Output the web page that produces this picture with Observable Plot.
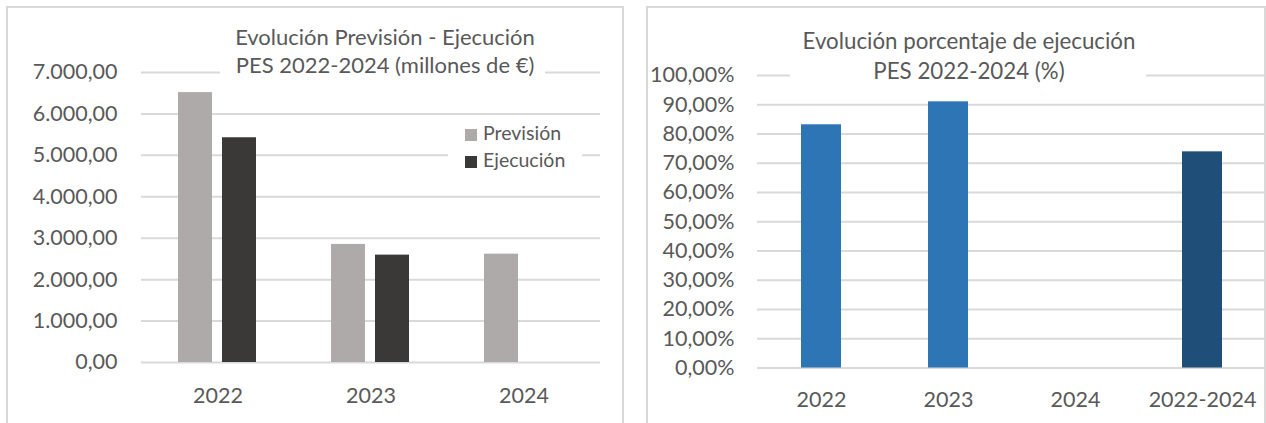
<!DOCTYPE html>
<html><head><meta charset="utf-8">
<script src="https://cdn.jsdelivr.net/npm/d3@7"></script>
<script src="https://cdn.jsdelivr.net/npm/@observablehq/plot@0.6"></script>
<style>
body{margin:0;width:1266px;height:423px;position:relative;overflow:hidden;background:#fff;font-family:Lato,sans-serif;color:#595959}
.panel{position:absolute;box-sizing:border-box;border:2px solid #d9d9d9;background:#fff}
.chart{position:absolute;top:0}
.title{position:absolute;background:#fff;text-align:center;white-space:nowrap;box-sizing:border-box}
.legend{position:absolute;background:#fff;white-space:nowrap;box-sizing:border-box}
.sw{display:inline-block;width:12px;height:12px;margin-right:6px;vertical-align:-1px}
</style></head><body>
<div class="panel" style="left:6px;top:6px;width:618px;height:440px"></div>
<div class="panel" style="left:646px;top:6px;width:620px;height:440px"></div>
<div id="left" class="chart" style="left:0;width:623px"></div>
<div id="right" class="chart" style="left:646px;width:620px"></div>
<div id="t1" class="title" style="left:220px;top:23px;width:325px;padding-left:5px;font-size:22px;line-height:28px"></div>
<div id="t2" class="title" style="left:790px;top:26px;width:356px;padding-left:2px;font-size:22.3px;line-height:30px"></div>
<div id="leg" class="legend" style="left:448px;top:119px;width:134px;padding-left:17px;font-size:19.5px;line-height:27px"></div>
<script>
// ---- Data: left chart (millones de €)
const years = ["2022", "2023", "2024"];
const prevision = [6515, 2850, 2615];
const ejecucion = [5425, 2592, null];
const seriesNames = ["Previsión", "Ejecución"];
const seriesColors = ["#AEAAAA", "#3B3838"];
const yTicksLeft = [0, 1000, 2000, 3000, 4000, 5000, 6000, 7000];

// ---- Data: right chart (% ejecución)
const periods = ["2022", "2023", "2024", "2022-2024"];
const pctEjecucion = [83.15, 91.0, null, 73.9];
const yTicksRight = [0, 10, 20, 30, 40, 50, 60, 70, 80, 90, 100];

const titleLeft = ["Evolución Previsión - Ejecución", "PES 2022-2024 (millones de €)"];
const titleRight = ["Evolución porcentaje de ejecución", "PES 2022-2024 (%)"];

const es = d3.formatLocale({decimal: ",", thousands: ".", grouping: [3], currency: ["", " €"]});
const fmtNum = es.format(",.2f");
const fmtPct = d => es.format(",.2f")(d) + "%";

const leftData = [];
years.forEach((y, i) => {
  if (prevision[i] != null) leftData.push({year: y, serie: seriesNames[0], value: prevision[i]});
  if (ejecucion[i] != null) leftData.push({year: y, serie: seriesNames[1], value: ejecucion[i]});
});
const rightData = periods.map((p, i) => ({periodo: p, pct: pctEjecucion[i]})).filter(d => d.pct != null);

const baseStyle = {fontFamily: "Lato", fontSize: "21.5px", color: "#595959", background: "transparent", overflow: "visible"};

const left = Plot.plot({
  width: 623, height: 423,
  marginLeft: 141, marginRight: 23, marginTop: 72, marginBottom: 61,
  style: baseStyle,
  fx: {domain: years, padding: 0, label: null},
  x: {domain: seriesNames, paddingInner: 0.22, paddingOuter: 0.84, axis: null},
  y: {domain: [0, 7000], axis: null},
  color: {domain: seriesNames, range: seriesColors},
  marks: [
    Plot.gridY(yTicksLeft, {stroke: "#D9D9D9", strokeOpacity: 1, strokeWidth: 2}),
    Plot.barY(leftData, {fx: "year", x: "serie", y: "value", fill: "serie", inset: 0}),
    Plot.axisY(yTicksLeft, {tickSize: 0, tickPadding: 24, tickFormat: fmtNum, label: null}),
    Plot.axisFx({anchor: "bottom", tickSize: 0, tickPadding: 25, label: null})
  ]
});
document.getElementById("left").appendChild(left);

const right = Plot.plot({
  width: 620, height: 423,
  marginLeft: 111, marginRight: 0, marginTop: 75, marginBottom: 55.5,
  style: baseStyle,
  x: {domain: periods, paddingInner: 0.6857, paddingOuter: 0.343, label: null},
  y: {domain: [0, 100], axis: null},
  marks: [
    Plot.gridY(yTicksRight, {stroke: "#D9D9D9", strokeOpacity: 1, strokeWidth: 2}),
    Plot.barY(rightData, {x: "periodo", y: "pct", fill: d => d.periodo === "2022-2024" ? "#1F4E79" : "#2E75B6", inset: 0}),
    Plot.axisY(yTicksRight, {tickSize: 0, tickPadding: 23, tickFormat: fmtPct, label: null}),
    Plot.axisX({tickSize: 0, tickPadding: 24, label: null})
  ]
});
document.getElementById("right").appendChild(right);

document.getElementById("t1").innerHTML = titleLeft.map(t => `<div>${t}</div>`).join("");
document.getElementById("t2").innerHTML = titleRight.map(t => `<div>${t}</div>`).join("");
document.getElementById("leg").innerHTML = seriesNames.map((s, i) =>
  `<div><span class="sw" style="background:${seriesColors[i]}"></span>${s}</div>`).join("");
</script>
</body></html>
